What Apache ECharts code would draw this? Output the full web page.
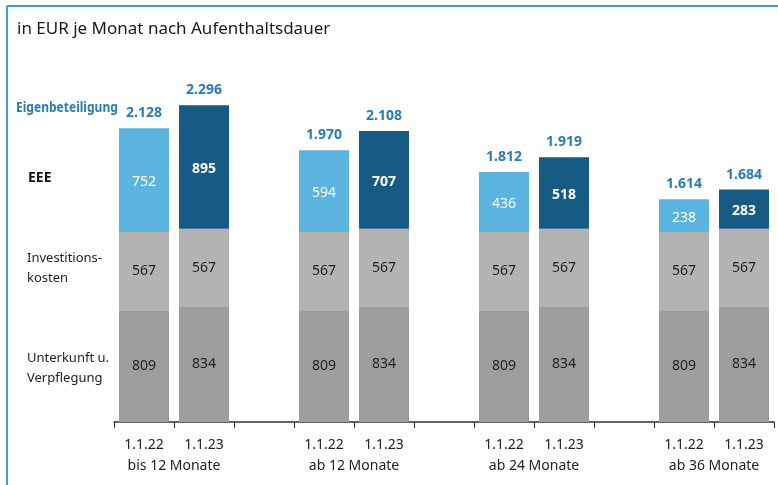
<!DOCTYPE html>
<html>
<head>
<meta charset="utf-8">
<script src="https://cdn.jsdelivr.net/npm/echarts@6/dist/echarts.min.js"></script>
<style>
  html, body { margin: 0; padding: 0; background: #fff; }
  #main { width: 778px; height: 485px; }
</style>
</head>
<body>
<div id="main"></div>
<script>
// Kategorien: je Gruppe zwei Stichtage, dazwischen eine Lücke
var categories = ['1.1.22', '1.1.23', '', '1.1.22', '1.1.23', '', '1.1.22', '1.1.23', '', '1.1.22', '1.1.23'];
var groupNames = ['bis 12 Monate', 'ab 12 Monate', 'ab 24 Monate', 'ab 36 Monate'];

var unterkunft = [809, 834, '-', 809, 834, '-', 809, 834, '-', 809, 834];
var investition = [567, 567, '-', 567, 567, '-', 567, 567, '-', 567, 567];
var eee = [752, 895, '-', 594, 707, '-', 436, 518, '-', 238, 283];
var eigenbeteiligung = [2128, 2296, '-', 1970, 2108, '-', 1812, 1919, '-', 1614, 1684];

var fontName = '"Noto Sans", sans-serif';

function fmt(v) {
    return String(v).replace(/\B(?=(\d{3})+(?!\d))/g, '.');
}

// zweite Achse für die Gruppennamen: Punkte auf den Grenzen zwischen den Balken
var groupAxisData = [];
for (var i = 0; i < 23; i++) groupAxisData.push('');
groupAxisData[2] = groupNames[0];
groupAxisData[8] = groupNames[1];
groupAxisData[14] = groupNames[2];
groupAxisData[20] = groupNames[3];

var myChart = echarts.init(document.getElementById('main'));

var option = {
    animation: false,
    textStyle: { fontFamily: fontName },
    title: {
        text: 'in EUR je Monat nach Aufenthaltsdauer',
        left: 12,
        top: 16,
        textStyle: { fontSize: 17, fontWeight: 'normal', color: '#1a1a1a', fontFamily: fontName }
    },
    grid: { left: 114, right: 4, top: 77, bottom: 63 },
    xAxis: [
        {
            type: 'category',
            data: categories,
            axisLine: { lineStyle: { color: '#333', width: 1.5 } },
            axisTick: { show: true, length: 6, interval: 0, lineStyle: { color: '#333' } },
            axisLabel: { interval: 0, color: '#222', fontSize: 14, margin: 16 }
        },
        {
            type: 'category',
            position: 'bottom',
            boundaryGap: false,
            data: groupAxisData,
            axisLine: { show: false },
            axisTick: { show: false },
            axisLabel: { interval: 0, color: '#222', fontSize: 14, margin: 37 }
        }
    ],
    yAxis: {
        type: 'value',
        min: 0,
        max: 2500,
        show: false,
        splitLine: { show: false }
    },
    series: [
        {
            name: 'Unterkunft u. Verpflegung',
            type: 'bar',
            stack: 'a',
            barWidth: 50,
            data: unterkunft,
            itemStyle: { color: '#9d9d9d' },
            label: { show: true, position: 'inside', color: '#222', fontSize: 14 }
        },
        {
            name: 'Investitionskosten',
            type: 'bar',
            stack: 'a',
            data: investition,
            itemStyle: { color: '#b3b3b3' },
            label: { show: true, position: 'inside', color: '#222', fontSize: 14 }
        },
        {
            name: 'EEE',
            type: 'bar',
            stack: 'a',
            data: eee.map(function (v, i) {
                if (v === '-') return v;
                var dark = categories[i] === '1.1.23';
                return {
                    value: v,
                    itemStyle: { color: dark ? '#175a84' : '#5bb4dd' },
                    label: { fontWeight: dark ? 'bold' : 'normal' }
                };
            }),
            label: { show: true, position: 'inside', color: '#fff', fontSize: 14, offset: [0, 2] }
        },
        {
            name: 'Eigenbeteiligung',
            type: 'bar',
            stack: 'a',
            data: eigenbeteiligung.map(function (v) { return v === '-' ? '-' : 0; }),
            itemStyle: { color: 'transparent' },
            label: {
                show: true,
                position: 'top',
                distance: 8,
                color: '#2b7bb5',
                fontWeight: 'bold',
                fontSize: 14,
                formatter: function (p) { return fmt(eigenbeteiligung[p.dataIndex]); }
            }
        }
    ],
    graphic: [
        { type: 'line', shape: { x1: 7, y1: 6, x2: 778, y2: 6 }, style: { stroke: '#3d9fd3', lineWidth: 2 } },
        { type: 'line', shape: { x1: 7, y1: 6, x2: 7, y2: 485 }, style: { stroke: '#3d9fd3', lineWidth: 2 } },
        {
            type: 'text', x: 16, y: 101, scaleX: 0.86,
            style: { text: 'Eigenbeteiligung', fill: '#2b7bb5', font: 'bold 14px ' + fontName }
        },
        {
            type: 'text', left: 28, top: 171,
            style: { text: 'EEE', fill: '#111', font: 'bold 14px ' + fontName }
        },
        {
            type: 'text', left: 27, top: 248,
            style: { text: 'Investitions-\nkosten', fill: '#222', font: '13px ' + fontName, lineHeight: 20 }
        },
        {
            type: 'text', left: 27, top: 348,
            style: { text: 'Unterkunft u.\nVerpflegung', fill: '#222', font: '13px ' + fontName, lineHeight: 20 }
        }
    ]
};

myChart.setOption(option);
</script>
</body>
</html>
